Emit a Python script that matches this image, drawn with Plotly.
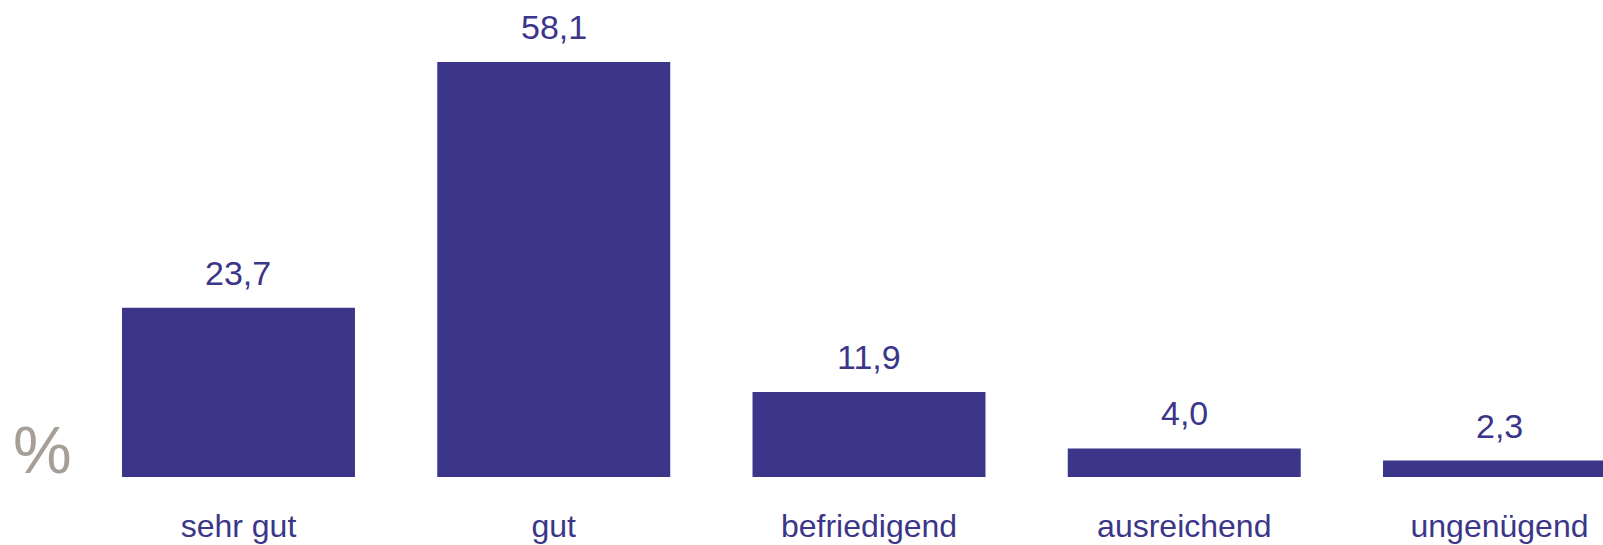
import plotly.graph_objects as go

categories = ["sehr gut", "gut", "befriedigend", "ausreichend", "ungenügend"]
values = [23.7, 58.1, 11.9, 4.0, 2.3]
value_labels = ["23,7", "58,1", "11,9", "4,0", "2,3"]

BAR = "#3b3689"
GREY = "#a69f98"

W, H = 1603, 545

fig = go.Figure()
fig.add_trace(go.Bar(
    x=list(range(len(categories))), y=values,
    marker=dict(color=BAR, line=dict(width=0)),
    width=0.739, hoverinfo="skip",
))

for i, (v, t) in enumerate(zip(values, value_labels)):
    fig.add_annotation(x=i, y=v, text=t, showarrow=False, yanchor="bottom",
                       xanchor="center", yshift=14,
                       font=dict(family="Liberation Sans", size=34, color=BAR))

fig.add_annotation(xref="paper", yref="paper", x=42.5 / W, y=0.0, text="%",
                   showarrow=False, xanchor="center", yanchor="bottom", yshift=-12,
                   font=dict(family="Liberation Sans", size=66, color=GREY))

fig.update_layout(
    width=W, height=H,
    margin=dict(l=0, r=0, t=0, b=68, autoexpand=False),
    paper_bgcolor="white", plot_bgcolor="white",
    showlegend=False,
    xaxis=dict(range=[-0.7565, 4.3283], tickmode="array",
               tickvals=list(range(len(categories))), ticktext=categories,
               showgrid=False, zeroline=False, showline=False, ticks="",
               automargin=False, ticklabelstandoff=27,
               tickfont=dict(family="Liberation Sans", size=32, color=BAR)),
    yaxis=dict(range=[0, 66.78], visible=False, showgrid=False, zeroline=False,
               automargin=False),
)

fig.write_html(
    "out.html",
    config={"displayModeBar": False, "staticPlot": True},
    post_script="document.body.style.margin='0';document.body.style.overflow='hidden';",
)
